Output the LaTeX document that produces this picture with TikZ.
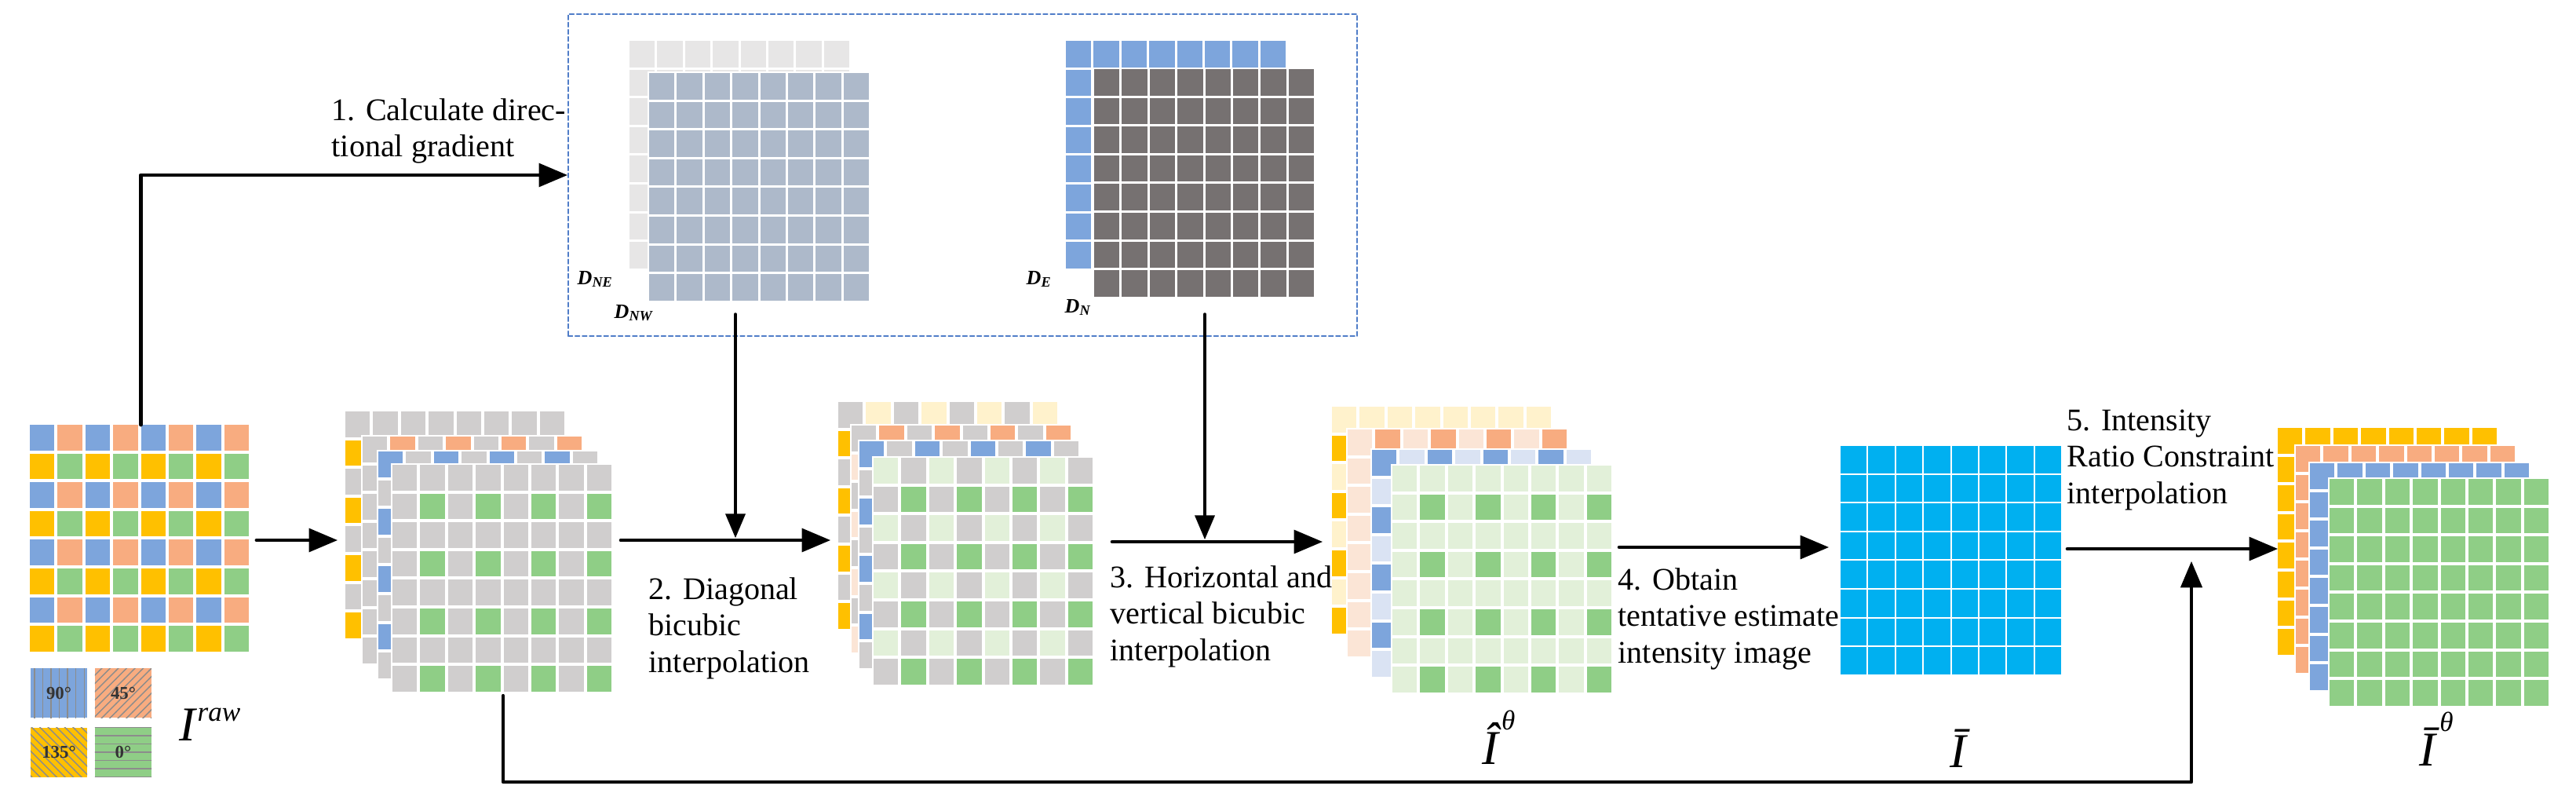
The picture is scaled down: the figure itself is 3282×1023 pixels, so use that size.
\documentclass[tikz,border=0pt]{standalone}
\usepackage{fontspec}
\setmainfont{Liberation Serif}
\usepackage{tikz}
\usetikzlibrary{arrows,patterns}

\definecolor{c90}{RGB}{125,165,220}
\definecolor{c45}{RGB}{248,172,128}
\definecolor{c135}{RGB}{255,192,0}
\definecolor{c0}{RGB}{143,206,134}
\definecolor{cgray}{RGB}{208,206,206}
\definecolor{lgreen}{RGB}{226,240,217}
\definecolor{lyellow}{RGB}{255,242,204}
\definecolor{lpeach}{RGB}{251,229,214}
\definecolor{lblue}{RGB}{218,227,243}
\definecolor{dback}{RGB}{231,230,230}
\definecolor{slate}{RGB}{173,185,202}
\definecolor{dark}{RGB}{118,113,113}
\definecolor{cyanI}{RGB}{0,176,240}
\definecolor{boxblue}{RGB}{80,125,200}

\newcommand{\pixgrid}[7][4]{%
  \fill[white] ({#2-2},{#3-2}) rectangle ++(283.2,292.8);
  \foreach \ri in {1,...,8}{%
    \foreach \ci in {1,...,8}{%
      \ifodd\ri\relax
        \ifodd\ci\relax\def\cellcol{#4}\else\def\cellcol{#5}\fi
      \else
        \ifodd\ci\relax\def\cellcol{#6}\else\def\cellcol{#7}\fi
      \fi
      \fill[\cellcol] ({#2+(\ci-1)*35.4},{#3+(\ri-1)*36.6}) rectangle ++({35.4-#1},{36.6-#1});
    }%
  }%
}

\begin{document}
\begin{tikzpicture}[line cap=round,line join=round,>=triangle 45,x=0.01cm,y=-0.01cm,
        port/.style={inner sep=0,outer sep=0,minimum height=0},
        txt/.style={inner sep=0,align=left,anchor=north west,font=\fontsize{11.4}{13.2}\selectfont},
        flow/.style={->,line width=1.4pt,shorten <=0.06cm,shorten >=0.1cm},
        feed/.style={->,line width=1pt},
        leg/.style={inner sep=0,minimum width=0.72cm,minimum height=0.63cm,text=black!80,font=\fontsize{6.5}{7}\selectfont\bfseries},
        lab/.style={inner sep=0,anchor=base west,font=\fontsize{17.6}{20}\selectfont},
        dlab/.style={inner sep=0,anchor=base west,font=\fontsize{7.4}{8}\selectfont\bfseries\itshape},
        gradbox/.style={draw=boxblue,line width=0.5pt,dash pattern=on 1.6pt off 1pt,minimum width=10.05cm,minimum height=4.1cm}]
        \useasboundingbox (0,0) rectangle (3282,1023);
        \node[gradbox] (grad) at (1226.5,223) {};
        \pixgrid[3]{802}{52}{dback}{dback}{dback}{dback}
        \pixgrid[3]{827}{93}{slate}{slate}{slate}{slate}
        \pixgrid[3]{1358}{52}{c90}{c90}{c90}{c90}
        \pixgrid[3]{1394}{88}{dark}{dark}{dark}{dark}
        \node[dlab] (dne) at (735,362) {D\textsubscript{NE}};
        \node[dlab] (dnw) at (782,405) {D\textsubscript{NW}};
        \node[dlab] (de) at (1307,362) {D\textsubscript{E}};
        \node[dlab] (dn) at (1356,398) {D\textsubscript{N}};
        \pixgrid{38}{541}{c90}{c45}{c135}{c0}
        \pixgrid{440}{524}{cgray}{cgray}{c135}{cgray}
        \pixgrid{462}{556}{cgray}{c45}{cgray}{cgray}
        \pixgrid{482}{575}{c90}{cgray}{cgray}{cgray}
        \pixgrid{500}{592}{cgray}{cgray}{cgray}{c0}
        \pixgrid{1068}{512}{cgray}{lyellow}{c135}{cgray}
        \pixgrid{1085}{542}{cgray}{c45}{lpeach}{cgray}
        \pixgrid{1095}{562}{c90}{cgray}{cgray}{lblue}
        \pixgrid{1113}{583}{lgreen}{cgray}{cgray}{c0}
        \pixgrid{1697}{518}{lyellow}{lyellow}{c135}{lyellow}
        \pixgrid{1717}{547}{lpeach}{c45}{lpeach}{lpeach}
        \pixgrid{1748}{573}{c90}{lblue}{lblue}{lblue}
        \pixgrid{1774}{593}{lgreen}{lgreen}{lgreen}{c0}
        \pixgrid[2]{2345}{568}{cyanI}{cyanI}{cyanI}{cyanI}
        \pixgrid{2902}{545}{c135}{c135}{c135}{c135}
        \pixgrid{2925}{568}{c45}{c45}{c45}{c45}
        \pixgrid{2943}{590}{c90}{c90}{c90}{c90}
        \pixgrid{2968}{610}{c0}{c0}{c0}{c0}
        \node[leg,fill=c90,postaction={pattern=vertical lines,pattern color=black!45}] (l90) at (75,882.5) {90°};
        \node[leg,fill=c45,postaction={pattern=north east lines,pattern color=black!45}] (l45) at (157,882.5) {45°};
        \node[leg,fill=c135,postaction={pattern=north west lines,pattern color=black!45}] (l135) at (75,958) {135°};
        \node[leg,fill=c0,postaction={pattern=horizontal lines,pattern color=black!45}] (l0) at (157,958) {0°};
        \node[port,minimum width=2.83cm,minimum height=2.94cm] (raw) at (179.5,688) {};
        \node[port,minimum width=3.45cm] (sA) at (612.5,688) {};
        \node[port,minimum width=3.27cm] (sB) at (1231.5,690) {};
        \node[port,minimum width=3.6cm] (sC) at (1877,697) {};
        \node[port,minimum width=2.83cm,minimum height=2.94cm] (ibar) at (2486.5,715) {};
        \node[port,minimum width=3.46cm] (sD) at (3075,699) {};
        \coordinate (dnwout) at (937,400);
        \coordinate (dnout) at (1535,400);
        \coordinate (sAbot) at (641,886);
        \coordinate (ret) at (2792,715);
        \draw[flow,shorten <=0cm,shorten >=0cm] (raw.north) |- (grad.west);
        \draw[flow] (raw.east) -- (raw.east -| sA.west);
        \draw[flow] (sA.east) -- (sA.east -| sB.west);
        \draw[flow,shorten <=0.22cm,shorten >=0.12cm] (sB.east) -- (sB.east -| sC.west);
        \draw[flow,shorten >=0.15cm] (sC.east) -- (sC.east -| ibar.west);
        \draw[flow,shorten >=0cm] (ibar.east |- sD.west) -- (sD.west);
        \draw[feed,shorten >=0.03cm] (dnwout) -- (dnwout |- sA.east);
        \draw[feed,shorten >=0.03cm] (dnout) -- (dnout |- sB.east);
        \draw[feed,line width=1.2pt] (sAbot) -- ++(0,110) -| (ret);
        \node[txt] (t1) at (422,125) {1. Calculate direc-\\tional gradient};
        \node[txt] (t2) at (826,735) {2. Diagonal\\bicubic\\interpolation};
        \node[txt] (t3) at (1414,720) {3. Horizontal and\\vertical bicubic\\interpolation};
        \node[txt] (t4) at (2061,723) {4. Obtain\\tentative estimate\\intensity image};
        \node[txt] (t5) at (2633,521) {5. Intensity\\Ratio Constraint\\interpolation};
        \node[lab] (lraw) at (228,943) {\textit{I}\raisebox{7pt}{\fontsize{10}{10}\selectfont\textit{raw}}};
        \node[lab] (lhat) at (1888,973) {\textit{Î}\raisebox{12.5pt}{\fontsize{10}{10}\selectfont\textit{θ}}};
        \node[lab] (lbar) at (2484,977) {\textit{Ī}};
        \node[lab] (lbart) at (3082,975) {\textit{Ī}\raisebox{12.5pt}{\fontsize{10}{10}\selectfont\textit{θ}}};
    \end{tikzpicture}
\end{document}
